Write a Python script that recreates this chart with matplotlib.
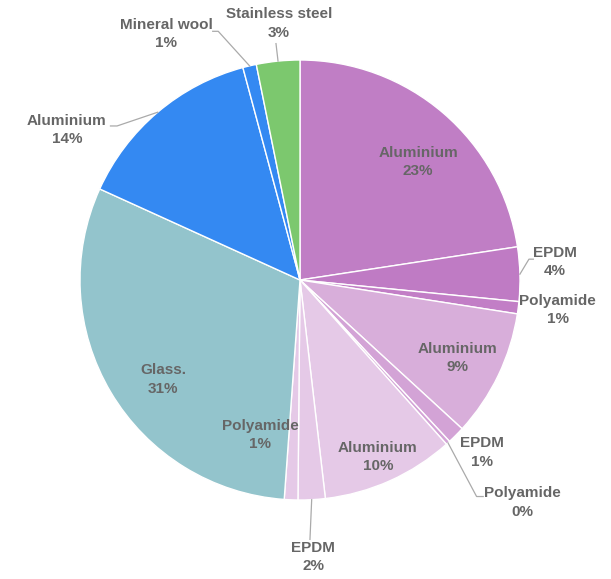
import numpy as np
import matplotlib.pyplot as plt

plt.rcParams['font.family'] = ['Liberation Sans', 'DejaVu Sans']

materials = ['Aluminium', 'EPDM', 'Polyamide', 'Aluminium', 'EPDM', 'Polyamide',
             'Aluminium', 'EPDM', 'Polyamide', 'Glass.', 'Aluminium', 'Mineral wool',
             'Stainless steel']
shares = [22.7, 4.0, 0.9, 9.4, 1.3, 0.3, 9.8, 2.0, 1.0, 30.8, 14.1, 1.0, 3.2]
colors = ['#C07EC5', '#BF7BC4', '#C27EC6', '#D8AEDA', '#D3A3D6', '#D3A3D6',
          '#E5C9E7', '#E5C9E7', '#E5C9E7', '#93C4CC', '#3489F2', '#3489F2', '#7CC86E']

# label position: angle from top (clockwise, deg), radius
lab_ang = [45, 86, 96.7, 116.3, 133.4, 135, 156.3, 177.3, 194.5, 234, 302.8, 331.4, 355.3]
lab_r = [0.76, 1.16, 1.18, 0.80, 1.14, 1.43, 0.88, 1.26, 0.727, 0.77, 1.26, 1.273, 1.17]
# leader lines: (elbow angle, elbow r, horizontal tail in data units)
leaders = {1: (84.8, 1.045, 0.02), 5: (140.8, 1.27, 0.03), 7: (177.8, 1.18, 0),
           10: (310.1, 1.087, -0.03), 11: (341.8, 1.19, -0.025), 12: (354.2, 1.08, 0)}


def polar(a, r):
    a = np.deg2rad(a)
    return r * np.sin(a), r * np.cos(a)


fig = plt.figure(figsize=(6.11, 5.79), dpi=100)
ax = fig.add_axes([0, 0, 1, 1])
ax.pie(shares, colors=colors, startangle=90, counterclock=False, radius=1,
       wedgeprops=dict(edgecolor='white', linewidth=1))
ax.set_xlim(-300 / 220, 311 / 220)
ax.set_ylim(-299 / 220, 280 / 220)
ax.set_aspect('equal', adjustable='box')
ax.axis('off')

total = sum(shares)
cum = np.cumsum([0] + shares) / total * 360
for i, (name, v) in enumerate(zip(materials, shares)):
    pct = round(v / total * 100)
    x, y = polar(lab_ang[i], lab_r[i])
    ax.text(x, y, f'{name}\n{pct}%', ha='center', va='center', fontsize=11,
            fontweight='bold', color='#666666', linespacing=1.4)
    if i in leaders:
        ea, er, tail = leaders[i]
        mid = (cum[i] + cum[i + 1]) / 2
        x0, y0 = polar(mid, 1.0)
        x1, y1 = polar(ea, er)
        xs = [x0, x1, x1 + tail]
        ys = [y0, y1, y1]
        ax.plot(xs, ys, color='#AAAAAA', lw=0.9)

fig.savefig('out.png', dpi=100)
